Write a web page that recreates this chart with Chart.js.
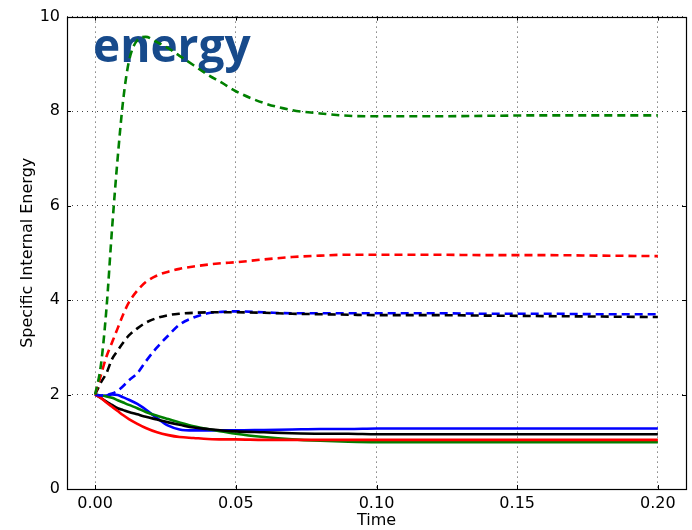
<!DOCTYPE html>
<html>
<head>
<meta charset="utf-8">
<script src="https://cdn.jsdelivr.net/npm/chart.js@4/dist/chart.umd.min.js"></script>
<style>
    html, body { margin: 0; padding: 0; background: #fff; }
    #wrap { width: 692px; height: 530px; }
</style>
</head>
<body>
<div id="wrap"><canvas id="energyChart" width="692" height="530"></canvas></div>
<script>
// Sample times shared by every series
const timeValues = [0, 0.002, 0.004, 0.006, 0.008, 0.010, 0.012, 0.015, 0.018, 0.022, 0.026, 0.030, 0.035,
    0.040, 0.045, 0.050, 0.060, 0.070, 0.080, 0.090, 0.100, 0.120, 0.140, 0.160, 0.180, 0.200];

// Dashed runs
const greenDashed = [2.0, 2.6, 3.8, 5.5, 7.0, 8.25, 9.05, 9.5, 9.57, 9.46, 9.33, 9.17, 8.97,
    8.77, 8.6, 8.42, 8.17, 8.02, 7.95, 7.9, 7.89, 7.89, 7.9, 7.91, 7.91, 7.91];
const redDashed = [2.0, 2.4, 2.8, 3.1, 3.4, 3.7, 3.95, 4.2, 4.38, 4.52, 4.6, 4.66, 4.71,
    4.75, 4.78, 4.8, 4.86, 4.91, 4.94, 4.96, 4.96, 4.96, 4.95, 4.95, 4.94, 4.93];
const blackDashed = [2.0, 2.25, 2.45, 2.75, 2.93, 3.1, 3.25, 3.4, 3.52, 3.62, 3.68, 3.71, 3.73,
    3.74, 3.74, 3.74, 3.73, 3.71, 3.7, 3.69, 3.68, 3.68, 3.67, 3.66, 3.65, 3.64];
const blueDashed = [2.0, 1.98, 1.99, 2.02, 2.08, 2.18, 2.3, 2.45, 2.7, 3.0, 3.25, 3.48, 3.63,
    3.72, 3.75, 3.76, 3.74, 3.72, 3.72, 3.72, 3.72, 3.72, 3.71, 3.71, 3.7, 3.7];

// Solid runs
const redSolid = [2.0, 1.93, 1.83, 1.74, 1.65, 1.56, 1.48, 1.38, 1.29, 1.2, 1.14, 1.1, 1.08,
    1.06, 1.05, 1.05, 1.04, 1.04, 1.04, 1.04, 1.04, 1.04, 1.04, 1.04, 1.04, 1.04];
const blackSolid = [2.0, 1.93, 1.85, 1.78, 1.71, 1.67, 1.63, 1.58, 1.53, 1.47, 1.41, 1.36, 1.3,
    1.27, 1.24, 1.22, 1.2, 1.18, 1.17, 1.17, 1.16, 1.16, 1.16, 1.16, 1.16, 1.16];
const greenSolid = [2.0, 1.98, 1.96, 1.93, 1.88, 1.83, 1.78, 1.71, 1.63, 1.55, 1.48, 1.41, 1.33,
    1.27, 1.22, 1.17, 1.1, 1.05, 1.02, 1.0, 0.99, 0.99, 0.99, 0.99, 0.99, 0.99];
const blueSolid = [2.0, 1.97, 1.98, 2.0, 1.99, 1.94, 1.89, 1.8, 1.68, 1.5, 1.34, 1.26, 1.24,
    1.24, 1.24, 1.24, 1.25, 1.26, 1.27, 1.27, 1.28, 1.28, 1.28, 1.28, 1.28, 1.28];

// Tick labels
const xTicks = [0.00, 0.05, 0.10, 0.15, 0.20];
const yTicks = [0, 2, 4, 6, 8, 10];

const FONT = 'DejaVu Sans';

function toPoints(values) {
    return values.map((v, i) => ({ x: timeValues[i], y: v }));
}

function series(values, color, dashed) {
    return {
        data: toPoints(values),
        borderColor: color,
        borderWidth: 2.6,
        borderDash: dashed ? [8, 5] : [],
        pointRadius: 0,
        fill: false,
        cubicInterpolationMode: 'monotone'
    };
}

// Big "energy" word behind the lines, on top of the grid
const wordPlugin = {
    id: 'word',
    beforeDatasetsDraw(chart) {
        const ctx = chart.ctx;
        ctx.save();
        ctx.font = 'bold 46px "Open Sans"';
        ctx.fillStyle = '#174a8b';
        ctx.textBaseline = 'alphabetic';
        ctx.fillText('energy', 93, 62);
        ctx.restore();
    }
};

// Frame around the plot plus inward ticks on all four sides
const framePlugin = {
    id: 'frame',
    afterDatasetsDraw(chart) {
        const { ctx, chartArea: a, scales } = chart;
        ctx.save();
        ctx.strokeStyle = '#000';
        ctx.lineWidth = 1;
        ctx.beginPath();
        xTicks.forEach(v => {
            const px = Math.round(scales.x.getPixelForValue(v)) + 0.5;
            ctx.moveTo(px, a.bottom); ctx.lineTo(px, a.bottom - 4);
            ctx.moveTo(px, a.top); ctx.lineTo(px, a.top + 4);
        });
        yTicks.forEach(v => {
            const py = Math.round(scales.y.getPixelForValue(v)) + 0.5;
            ctx.moveTo(a.left, py); ctx.lineTo(a.left + 4, py);
            ctx.moveTo(a.right, py); ctx.lineTo(a.right - 4, py);
        });
        ctx.stroke();
        ctx.lineWidth = 1.2;
        ctx.strokeRect(Math.round(a.left) + 0.5, Math.round(a.top) + 0.5,
            Math.round(a.right - a.left), Math.round(a.bottom - a.top));
        ctx.restore();
    }
};

new Chart(document.getElementById('energyChart'), {
    type: 'line',
    data: {
        datasets: [
            series(greenDashed, '#008000', true),
            series(redDashed, '#ff0000', true),
            series(blackDashed, '#000000', true),
            series(blueDashed, '#0000ff', true),
            series(redSolid, '#ff0000', false),
            series(blackSolid, '#000000', false),
            series(greenSolid, '#008000', false),
            series(blueSolid, '#0000ff', false)
        ]
    },
    options: {
        responsive: false,
        animation: false,
        layout: { padding: { top: 15, right: 6, left: 18, bottom: 0 } },
        plugins: { legend: { display: false }, tooltip: { enabled: false } },
        scales: {
            x: {
                type: 'linear',
                min: -0.01,
                max: 0.21,
                afterBuildTicks: axis => { axis.ticks = xTicks.map(v => ({ value: v })); },
                afterFit: axis => { axis.height = 41; },
                border: { display: false, dash: [1, 4] },
                grid: { color: '#444', lineWidth: 1, drawTicks: false },
                ticks: {
                    padding: 5,
                    color: '#000',
                    font: { family: FONT, size: 16 },
                    callback: v => v.toFixed(2)
                },
                title: {
                    display: true,
                    text: 'Time',
                    color: '#000',
                    font: { family: FONT, size: 16 },
                    padding: { top: -3, bottom: 0 }
                }
            },
            y: {
                min: 0,
                max: 10,
                afterBuildTicks: axis => { axis.ticks = yTicks.map(v => ({ value: v })); },
                afterFit: axis => { axis.width = 49; },
                border: { display: false, dash: [1, 4] },
                grid: { color: '#444', lineWidth: 1, drawTicks: false },
                ticks: {
                    padding: 7,
                    color: '#000',
                    font: { family: FONT, size: 16 },
                    callback: v => String(v)
                },
                title: {
                    display: true,
                    text: 'Specific Internal Energy',
                    color: '#000',
                    font: { family: FONT, size: 16 },
                    padding: { top: 0, bottom: 0 }
                }
            }
        }
    },
    plugins: [wordPlugin, framePlugin]
});
</script>
</body>
</html>
